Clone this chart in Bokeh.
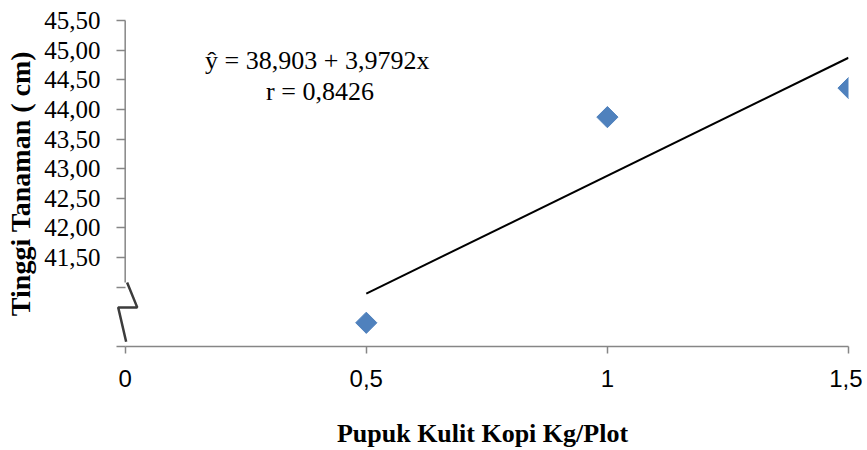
from bokeh.plotting import figure
from bokeh.models import Range1d, FixedTicker, CustomJSTickFormatter, Label, Arrow, PolyAnnotation
from bokeh.embed import file_html
from bokeh.resources import INLINE

# data
x_vals = [0.5, 1.0, 1.5]
y_vals = [40.40, 43.87, 44.36]
intercept = 38.903
slope = 3.9792
x_ticks = [0, 0.5, 1, 1.5]
y_ticks = [40.0, 41.0, 41.5, 42.0, 42.5, 43.0, 43.5, 44.0, 44.5, 45.0, 45.5]
eq_text = "ŷ = 38,903 +  3,9792x"
r_text = "r = 0,8426"
x_title = "Pupuk Kulit Kopi Kg/Plot"
y_title = "Tinggi Tanaman ( cm)"

line_x = [min(x_vals), max(x_vals)]
line_y = [intercept + slope * v for v in line_x]

SERIF = "Liberation Serif"
SANS = "Liberation Sans"
GREY = "#868686"

p = figure(width=862, height=450, output_backend="svg", toolbar_location=None,
           x_range=Range1d(-0.018, 1.5), y_range=Range1d(40.0, 45.5),
           min_border_left=116, min_border_right=14, min_border_top=20, min_border_bottom=103)
p.outline_line_color = None
p.grid.visible = False
p.background_fill_color = "white"
p.border_fill_color = "white"

# x axis
xa = p.xaxis[0]
xa.ticker = FixedTicker(ticks=x_ticks)
xa.bounds = (0, 1.5)
xa.formatter = CustomJSTickFormatter(code='return tick.toString().replace(".", ",");')
xa.minor_tick_line_color = None
xa.major_tick_in = 0
xa.major_tick_out = 7
xa.axis_line_color = GREY
xa.axis_line_width = 1.5
xa.major_tick_line_color = GREY
xa.major_tick_line_width = 1.5
xa.major_label_text_font = SANS
xa.major_label_text_font_size = "24px"
xa.major_label_text_color = "black"
xa.major_label_standoff = 16
xa.axis_label = x_title
xa.axis_label_text_font = SERIF
xa.axis_label_text_font_style = "bold"
xa.axis_label_text_font_size = "26px"
xa.axis_label_text_color = "black"
xa.axis_label_standoff = 29

# y axis (ticks drawn inward from the frame edge so they end on the axis line at x=0)
ya = p.yaxis[0]
ya.ticker = FixedTicker(ticks=y_ticks)
ya.formatter = CustomJSTickFormatter(code='if (tick < 41.4) { return ""; } return tick.toFixed(2).replace(".", ",");')
ya.minor_tick_line_color = None
ya.major_tick_in = 9
ya.major_tick_out = 0
ya.axis_line_color = None
ya.major_tick_line_color = GREY
ya.major_tick_line_width = 1.5
ya.major_label_text_font = SERIF
ya.major_label_text_font_size = "25px"
ya.major_label_text_color = "black"
ya.major_label_standoff = 16
ya.axis_label = y_title
ya.axis_label_text_font = SERIF
ya.axis_label_text_font_style = "bold"
ya.axis_label_text_font_size = "28px"
ya.axis_label_text_color = "black"
ya.axis_label_standoff = 5

# y axis line, interrupted by the break
p.add_layout(Arrow(start=None, end=None, x_start=0, y_start=41.08, x_end=0, y_end=45.5,
                   line_color=GREY, line_width=1.5))
# break symbol (path retraced so the closing edge is invisible)
bx = [0.004, 0.025, -0.0145, 0.002]
by = [41.08, 40.66, 40.66, 40.08]
p.add_layout(PolyAnnotation(xs=bx + bx[::-1][1:], ys=by + by[::-1][1:],
                            fill_alpha=0, line_color="#1a1a1a", line_alpha=0.85, line_width=2.5))

# regression line and points
p.line(line_x, line_y, line_color="black", line_width=2)
p.scatter(x_vals, y_vals, marker="square", size=15, angle=0.785398,
          fill_color="#4F81BD", line_color="#4F81BD")

# equation annotations
p.add_layout(Label(x=0.405, y=44.82, text=eq_text, text_align="center", text_baseline="middle",
                   text_font=SERIF, text_font_size="26px", text_color="black"))
p.add_layout(Label(x=0.404, y=44.30, text=r_text, text_align="center", text_baseline="middle",
                   text_font=SERIF, text_font_size="26px", text_color="black"))

open("out.html", "w").write(file_html(p, INLINE))
